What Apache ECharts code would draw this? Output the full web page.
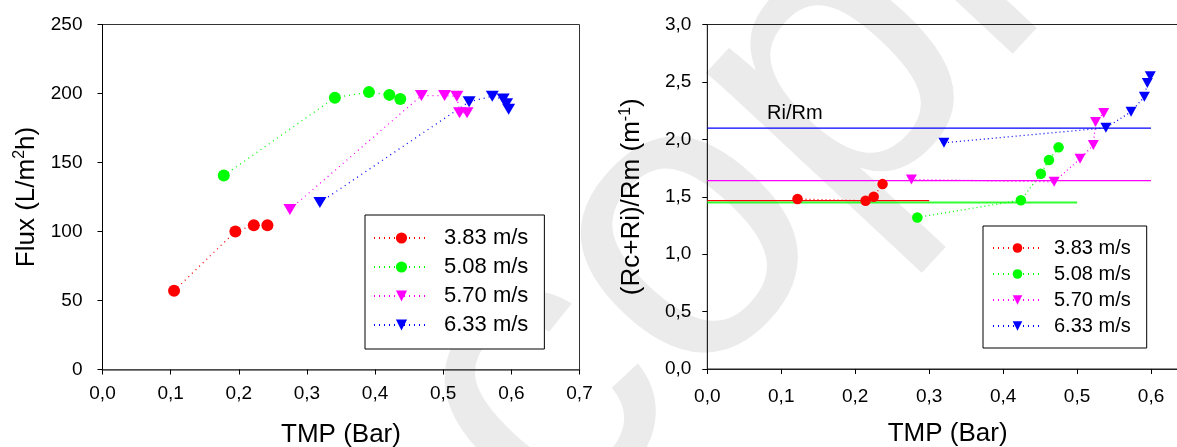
<!DOCTYPE html>
<html><head><meta charset="utf-8">
<script src="https://cdn.jsdelivr.net/npm/echarts@6/dist/echarts.min.js"></script>
<style>html,body{margin:0;padding:0;background:#fff}#c{width:1177px;height:447px}</style>
</head><body><div id="c"></div>
<script>
// ---- data ----
const seriesNames = ['3.83 m/s', '5.08 m/s', '5.70 m/s', '6.33 m/s'];
const seriesColors = ['#ff0000', '#00ff00', '#ff00ff', '#0000ff'];

// Left chart: Flux (L/m2h) vs TMP (Bar)
const fluxTmp383 = [0.105, 0.195, 0.222, 0.242];
const flux383    = [57, 100, 104.5, 104.5];
const fluxTmp508 = [0.178, 0.341, 0.391, 0.421, 0.437];
const flux508    = [140.5, 197, 201, 199, 196];
const fluxTmp570 = [0.275, 0.468, 0.502, 0.520, 0.524, 0.535];
const flux570    = [116, 198.5, 198.5, 198, 186, 186];
const fluxTmp633 = [0.319, 0.538, 0.572, 0.588, 0.593, 0.596];
const flux633    = [121, 194, 198, 196, 192.5, 188.5];

// Right chart: (Rc+Ri)/Rm vs TMP (Bar)
const resTmp383 = [0.122, 0.214, 0.225, 0.237];
const res383    = [1.48, 1.465, 1.50, 1.61];
const resTmp508 = [0.284, 0.424, 0.451, 0.462, 0.475];
const res508    = [1.32, 1.47, 1.70, 1.82, 1.93];
const resTmp570 = [0.276, 0.469, 0.504, 0.522, 0.525, 0.536];
const res570    = [1.65, 1.63, 1.83, 1.95, 2.15, 2.23];
const resTmp633 = [0.320, 0.539, 0.573, 0.591, 0.595, 0.599];
const res633    = [1.97, 2.10, 2.24, 2.37, 2.49, 2.55];

// Ri/Rm reference levels and the TMP where each level line ends
const riRmLevels = [1.466, 1.450, 1.640, 2.097];
const riRmEnds   = [0.3, 0.5, 0.6, 0.6];

const fluxTicks = [0, 50, 100, 150, 200, 250];
const resTicks  = [0, 0.5, 1.0, 1.5, 2.0, 2.5, 3.0];
const tmpTicks  = [0, 0.1, 0.2, 0.3, 0.4, 0.5, 0.6, 0.7];

// ---- build ----
const FONT = "'Liberation Sans', Arial, sans-serif";
const TRI = 'path://M0,0L10,0L5,9Z';
const symbols = ['circle', 'circle', TRI, TRI];
const zip = (a, b) => a.map((v, i) => [v, b[i]]);
const leftX = [fluxTmp383, fluxTmp508, fluxTmp570, fluxTmp633];
const leftY = [flux383, flux508, flux570, flux633];
const rightX = [resTmp383, resTmp508, resTmp570, resTmp633];
const rightY = [res383, res508, res570, res633];
const comma = v => Number(v).toFixed(1).replace('.', ',');

const series = [];
riRmLevels.forEach((lv, i) => {
  series.push({
    name: 'ref' + i, type: 'line', xAxisIndex: 1, yAxisIndex: 1,
    data: [[0, lv], [riRmEnds[i], lv]], symbol: 'none', silent: true, z: 1,
    lineStyle: { color: seriesColors[i], width: i === 1 ? 1.8 : 1.3, type: 'solid', opacity: i === 1 ? 0.8 : 1 }
  });
});
seriesNames.forEach((nm, i) => {
  const isTri = symbols[i] !== 'circle';
  series.push({
    name: nm, type: 'line', xAxisIndex: 0, yAxisIndex: 0,
    data: zip(leftX[i], leftY[i]),
    symbol: symbols[i], symbolSize: isTri ? [13, 11] : 12, showAllSymbol: true,
    itemStyle: { color: seriesColors[i] },
    lineStyle: { color: seriesColors[i], width: 1.3, type: [1, 4] }, z: 3
  });
  series.push({
    name: nm, type: 'line', xAxisIndex: 1, yAxisIndex: 1,
    data: zip(rightX[i], rightY[i]),
    symbol: symbols[i], symbolSize: isTri ? [11, 10] : 10.5, showAllSymbol: true,
    itemStyle: { color: seriesColors[i] },
    lineStyle: { color: seriesColors[i], width: 1.3, type: [1, 3] }, z: 3
  });
});

function xAxis(gi, max, margin) {
  return {
    gridIndex: gi, type: 'value', min: 0, max: max, interval: 0.1,
    axisLine: { show: true, onZero: false, lineStyle: { color: gi === 0 ? '#555' : '#222', width: gi === 0 ? 1.5 : 1 } },
    axisTick: { show: true, length: 5, lineStyle: { color: '#000' } },
    axisLabel: { formatter: comma, fontSize: 19, color: '#000', margin: margin, fontFamily: FONT, showMaxLabel: gi === 0 },
    splitLine: { show: false },
    name: 'TMP (Bar)', nameLocation: 'middle', nameGap: 52,
    nameTextStyle: { fontSize: 26, color: '#000', fontFamily: FONT }
  };
}

const option = {
  animation: false,
  backgroundColor: '#fff',
  textStyle: { fontFamily: FONT },
  grid: [
    { left: 102.5, top: 24.5, width: 477, height: 345, show: true, borderColor: '#333', borderWidth: 1,
      backgroundColor: 'transparent', containLabel: false, outerBoundsMode: 'none' },
    { left: 707.3, top: 24.5, width: 480.7, height: 344.5, show: true, borderColor: '#222', borderWidth: 1,
      backgroundColor: 'transparent', containLabel: false, outerBoundsMode: 'none' }
  ],
  xAxis: [xAxis(0, 0.7, 15), xAxis(1, 0.65, 18)],
  yAxis: [
    {
      gridIndex: 0, type: 'value', min: fluxTicks[0], max: fluxTicks[fluxTicks.length - 1], interval: 50,
      axisLine: { show: true, onZero: false, lineStyle: { color: '#000', width: 1 } },
      axisTick: { show: true, length: 5, lineStyle: { color: '#000' } },
      axisLabel: { fontSize: 19, color: '#000', margin: 20, fontFamily: FONT },
      splitLine: { show: false },
      name: '{a|Flux (L/m}{s|2}{a|h)}', nameLocation: 'middle', nameGap: 61,
      nameTextStyle: {
        color: '#000', fontFamily: FONT,
        rich: { a: { fontSize: 26, lineHeight: 30, color: '#000', fontFamily: FONT },
                s: { fontSize: 16, lineHeight: 16, verticalAlign: 'top', color: '#000', fontFamily: FONT } }
      }
    },
    {
      gridIndex: 1, type: 'value', min: resTicks[0], max: resTicks[resTicks.length - 1], interval: 0.5,
      axisLine: { show: true, onZero: false, lineStyle: { color: '#222', width: 1 } },
      axisTick: { show: true, length: 5, lineStyle: { color: '#000' } },
      axisLabel: { formatter: comma, fontSize: 19, color: '#000', margin: 16, fontFamily: FONT },
      splitLine: { show: false },
      name: '{a|(Rc+Ri)/Rm (m}{s|-1}{a|)}', nameLocation: 'middle', nameGap: 60,
      nameTextStyle: {
        color: '#000', fontFamily: FONT,
        rich: { a: { fontSize: 26, lineHeight: 30, color: '#000', fontFamily: FONT },
                s: { fontSize: 16, lineHeight: 16, verticalAlign: 'top', color: '#000', fontFamily: FONT } }
      }
    }
  ],
  legend: [
    {
      orient: 'vertical', left: 365, top: 215, data: seriesNames, selectedMode: false,
      itemWidth: 55, itemHeight: 14, itemGap: 5, padding: [11, 16, 12, 8],
      borderColor: '#000', borderWidth: 1, backgroundColor: '#fff',
      textStyle: { fontSize: 22, lineHeight: 24, color: '#000', padding: [0, 0, 0, 10], fontFamily: FONT }
    },
    {
      orient: 'vertical', left: 983, top: 226, data: seriesNames, selectedMode: false,
      itemWidth: 49, itemHeight: 12, itemGap: 2, padding: [10, 16, 10, 9],
      borderColor: '#000', borderWidth: 1, backgroundColor: '#fff',
      textStyle: { fontSize: 20, lineHeight: 24, color: '#000', padding: [0, 0, 0, 7], fontFamily: FONT }
    }
  ],
  graphic: [
    { type: 'text', z: -10, zlevel: 0, x: 800, y: 120, rotation: 47 * Math.PI / 180, silent: true,
      style: { text: 'copia', fontSize: 400, fontFamily: FONT, fill: '#ebebeb', align: 'center', verticalAlign: 'middle' } },
    { type: 'text', left: 767, top: 103, silent: true, z: 10,
      style: { text: 'Ri/Rm', fontSize: 20, fontFamily: FONT, fill: '#000' } }
  ],
  series: series
};

const chart = echarts.init(document.getElementById('c'), null, { renderer: 'canvas' });
chart.setOption(option);
</script>
</body></html>
